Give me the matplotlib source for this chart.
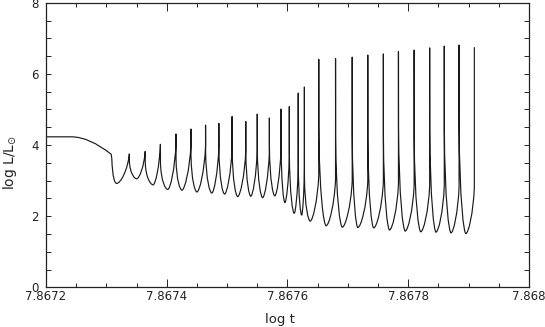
import matplotlib
matplotlib.use('Agg')
import matplotlib.pyplot as plt
from matplotlib.path import Path
from matplotlib.patches import PathPatch
from matplotlib.ticker import MultipleLocator, FuncFormatter

plt.rcParams['font.family'] = ['DejaVu Sans']
plt.rcParams['mathtext.fontset'] = 'dejavusans'

# ---- data ----
# early (pre-flash) track: log t, log L/Lsun
pre_t = [7.8672, 7.867242, 7.8673080, 7.8673090]
pre_L = [4.23, 4.23, 3.74, 3.62]

# thermal pulses: spike times, spike maxima, level right after spike
peak_t = [7.8673380, 7.8673643, 7.8673895, 7.8674153, 7.8674401, 7.8674643,
          7.8674863, 7.8675082, 7.8675309, 7.8675499, 7.8675700, 7.8675891,
          7.8676030, 7.8676178, 7.8676280, 7.8676518, 7.8676796, 7.8677072,
          7.8677330, 7.8677588, 7.8677838, 7.8678098, 7.8678355, 7.8678597,
          7.8678842, 7.8679095]
peak_L = [3.75, 3.82, 4.02, 4.31, 4.45, 4.56, 4.61, 4.80, 4.66, 4.87, 4.76,
          5.01, 5.08, 5.46, 5.63, 6.41, 6.43, 6.47, 6.53, 6.56, 6.63, 6.67,
          6.73, 6.78, 6.81, 6.75]
shoulder_L = [3.55, 3.5, 3.5, 3.6, 3.7, 3.8, 3.9, 3.9, 3.8, 3.9, 3.95, 4.15,
              3.8, 3.5, 3.1, 4.5, 4.2, 4.25, 4.2, 4.23, 4.5, 4.22, 4.47, 4.44,
              4.53, 4.5]
# interpulse minima (one before each spike)
trough_t = [7.8673171, 7.8673502, 7.8673775, 7.8674017, 7.8674252, 7.8674500,
            7.8674747, 7.8674958, 7.8675175, 7.8675392, 7.8675588, 7.8675790,
            7.8675957, 7.8676112, 7.8676236, 7.8676376, 7.8676640, 7.8676908,
            7.8677165, 7.8677428, 7.8677690, 7.8677950, 7.8678208, 7.8678460,
            7.8678709, 7.8678955]
trough_L = [2.92, 3.05, 2.88, 2.75, 2.73, 2.68, 2.65, 2.62, 2.55, 2.56, 2.52,
            2.57, 2.38, 2.08, 2.03, 1.86, 1.73, 1.69, 1.68, 1.67, 1.61, 1.58,
            1.56, 1.55, 1.53, 1.51]

xticks = [7.8672, 7.8674, 7.8676, 7.8678, 7.868]
yticks = [0, 2, 4, 6, 8]

# ---- figure ----
fig = plt.figure(figsize=(5.45, 3.27), dpi=100)
ax = fig.add_axes([0.0844, 0.1214, 0.8862, 0.8703])

verts, codes = [], []
def put(code, *pts):
    for p in pts:
        verts.append(p)
        codes.append(code)

put(Path.MOVETO, (pre_t[0], pre_L[0]))
put(Path.LINETO, (pre_t[1], pre_L[1]))
put(Path.CURVE3, (pre_t[1] + 0.45 * (pre_t[2] - pre_t[1]), pre_L[1]),
    (pre_t[2], pre_L[2]))
put(Path.LINETO, (pre_t[3], pre_L[3]))
w = trough_t[0] - pre_t[3]
put(Path.CURVE4, (pre_t[3] + 0.15 * w, trough_L[0] + 0.15),
    (trough_t[0] - 0.4 * w, trough_L[0]), (trough_t[0], trough_L[0]))

n = len(peak_t)
for i in range(n):
    tm, m = trough_t[i], trough_L[i]
    tp, P, S = peak_t[i], peak_L[i], shoulder_L[i]
    w2 = tp - tm
    R = min(m + 1.3, P)
    put(Path.CURVE4, (tm + 0.3 * w2, m), (tp - 0.12 * w2, m + 0.45 * (R - m)),
        (tp, R))
    put(Path.LINETO, (tp, P))
    if i + 1 < n:
        tn, mn = trough_t[i + 1], trough_L[i + 1]
        w1 = tn - tp
        put(Path.LINETO, (tp + 0.01 * w1, S))
        put(Path.CURVE4, (tp + 0.08 * w1, mn + 0.3 * (S - mn)),
            (tn - 0.3 * w1, mn), (tn, mn))

patch = PathPatch(Path(verts, codes), fill=False, edgecolor='#1a1a1a',
                  lw=0.85, joinstyle='round', capstyle='butt')
ax.add_patch(patch)

ax.set_xlim(7.8672, 7.868)
ax.set_ylim(0, 8)
ax.set_xticks(xticks)
ax.set_yticks(yticks)
ax.xaxis.set_minor_locator(MultipleLocator(0.00005))
ax.yaxis.set_minor_locator(MultipleLocator(0.5))
ax.xaxis.set_major_formatter(FuncFormatter(lambda v, p: '%g' % round(v, 6)))
ax.yaxis.set_major_formatter(FuncFormatter(lambda v, p: '%g' % v))

tc = '#222222'
ax.tick_params(which='both', direction='in', top=True, right=True,
               width=0.7, colors=tc, labelsize=8.5)
ax.tick_params(axis='x', which='major', length=5.8, pad=2.3)
ax.tick_params(axis='x', which='minor', length=2.9)
ax.tick_params(axis='y', which='both', length=3.6, pad=5.0)
for s in ax.spines.values():
    s.set_linewidth(0.9)
    s.set_color('#222222')

ax.set_xlabel('log t', fontsize=9.5, color=tc)
ax.set_ylabel(r'log L/L$_{\odot}$', fontsize=10, color=tc)
ax.xaxis.set_label_coords(0.484, -0.092)
ax.yaxis.set_label_coords(-0.056, 0.437)

fig.savefig('out.png', dpi=100)
